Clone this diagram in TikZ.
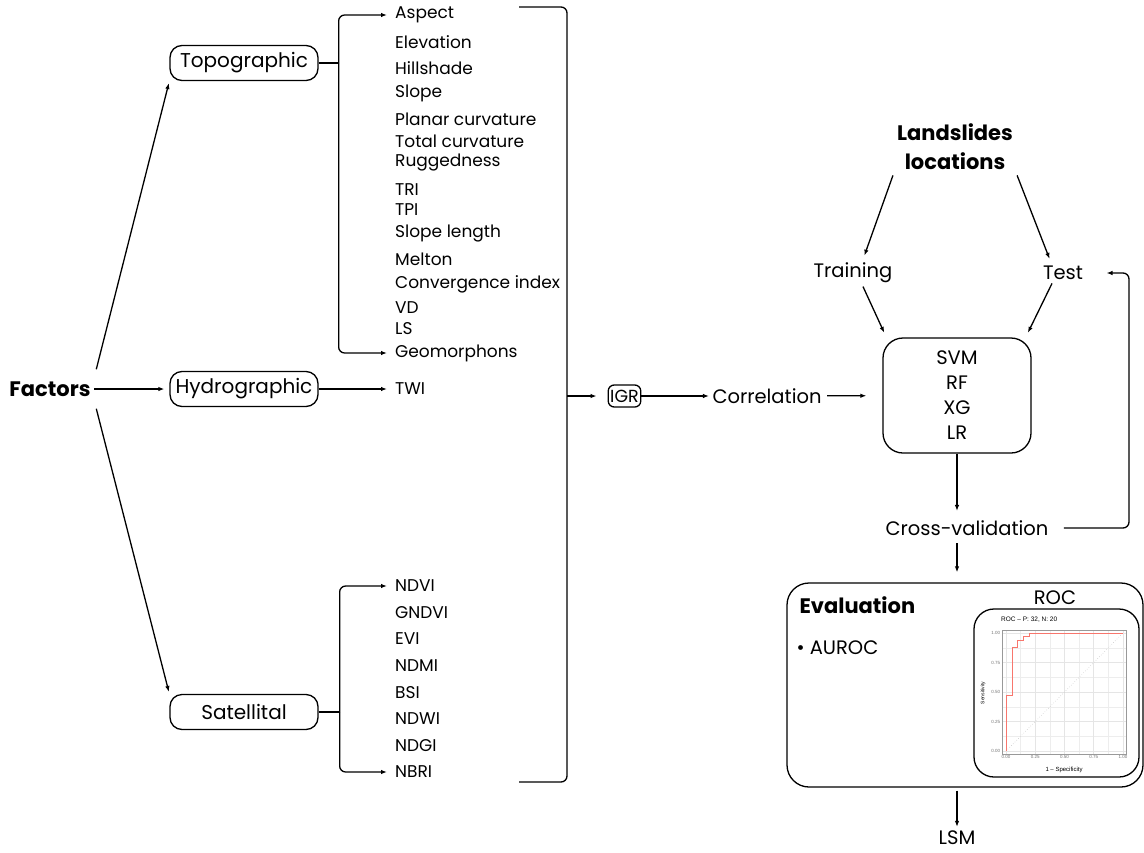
\documentclass[tikz,border=0pt]{standalone}
\usepackage{fontspec}
\setmainfont{Poppins}
\newfontfamily\plotfont{Liberation Sans}
\usepackage{tikz}
\usetikzlibrary{arrows.meta,positioning}

\definecolor{rocred}{HTML}{F8766D}
\tikzset{
	arr/.style={-{Latex[length=6pt,width=4.5pt]}, line width=1.3pt},
	ln/.style={line width=1.3pt},
	cat/.style={draw, line width=1.3pt, rounded corners=12pt, minimum width=148pt, minimum height=35pt, inner sep=0pt, font=\fontsize{20}{24}\selectfont},
	item/.style={anchor=west, inner xsep=8pt, inner ysep=1pt, font=\fontsize{17}{20}\selectfont},
	lbl/.style={font=\fontsize{19.5}{25}\selectfont},
	hd/.style={font=\fontsize{21}{25}\selectfont\bfseries},
	tick/.style={font=\plotfont\fontsize{4.5}{5}\selectfont, text=black!55, inner sep=1pt},
}

\begin{document}
\begin{tikzpicture}[x=1pt, y=-1pt]
	\useasboundingbox (0,0) rectangle (1144,852);

	\node[hd] (factors) at (50,389) {Factors};
	\node[cat] (topo) at (244,63) {Topographic};
	\node[cat] (hydro) at (244,389) {Hydrographic};
	\node[cat] (sat) at (244,712) {Satellital};

	\draw[arr, shorten <=9pt, shorten >=2pt] (factors.north east) -- (topo.south west);
	\draw[arr, shorten >=5pt] (factors) -- (hydro);
	\draw[arr, shorten <=9pt, shorten >=2pt] (factors.south east) -- (sat.north west);

	\foreach \y/\txt [count=\i] in {15/Aspect, 42/Elevation, 68/Hillshade, 93/Slope, 119/Planar curvature, 141/Total curvature, 163/Ruggedness, 190/TRI, 210/TPI, 233/Slope length, 259/Melton, 284/Convergence index, 308/VD, 329/LS, 353/Geomorphons}
		\node[item] (t\i) at (387,\y) {\txt};
	\node[item] (twi) at (387,389) {TWI};
	\foreach \y/\txt [count=\i] in {586/NDVI, 613/GNDVI, 639/EVI, 666/NDMI, 693/BSI, 719/NDWI, 746/NDGI, 772/NBRI}
		\node[item] (s\i) at (387,\y) {\txt};

	\draw[ln] (topo.east) -- ++(20,0) coordinate (tj);
	\draw[arr, rounded corners=6pt] (tj) |- (t1.west);
	\draw[arr, rounded corners=6pt] (tj) |- (t15.west);
	\draw[arr] (hydro) -- (twi);
	\draw[ln] (sat.east) -- ++(21,0) coordinate (sj);
	\draw[arr, rounded corners=6pt] (sj) |- (s1.west);
	\draw[arr, rounded corners=6pt] (sj) |- (s8.west);

	\coordinate (bt1) at (519,7);
	\coordinate (bt2) at (519,782);
	\coordinate (bx) at (567,396);
	\draw[ln, rounded corners=6pt] (bt1) -| (bx) |- (bt2);

	\node[draw, ln, rounded corners=6pt, inner sep=2pt, minimum height=22pt, font=\fontsize{17.5}{20}\selectfont] (igr) at (624.5,396) {IGR};
	\node[lbl] (corr) at (767,396) {Correlation};
	\node[lbl, draw, ln, rounded corners=20pt, align=center, minimum width=148pt, minimum height=115pt] (model) at (957,395.5) {SVM\\RF\\XG\\LR};
	\draw[arr, shorten >=11pt] (bx) -- (igr);
	\draw[arr] (igr) -- (corr);
	\draw[arr, shorten <=2pt, shorten >=16pt] (corr) -- (model);

	\node[hd, align=center, font=\fontsize{21}{29}\selectfont\bfseries] (land) at (955,147) {Landslides\\locations};
	\node[lbl] (train) at (853,273) {Training};
	\node[lbl] (test) at (1063,273) {Test};
	\draw[arr, shorten <=2pt, shorten >=4pt] (land.south west) -- ([xshift=10pt]train.north);
	\draw[arr, shorten <=2pt, shorten >=4pt] (land.south east) -- ([xshift=-12pt]test.north);
	\draw[arr, shorten >=5pt] ([xshift=10pt]train.south) -- ([xshift=4pt]model.north west);
	\draw[arr, shorten >=5pt] ([xshift=-11pt]test.south) -- ([xshift=-6pt]model.north east);

	\node[lbl] (cv) at (967,528) {Cross-validation};
	\node[draw, ln, rounded corners=22pt, minimum width=356pt, minimum height=204pt] (eval) at (965,685) {};
	\node[lbl, inner sep=2pt] (lsm) at (957,838) {LSM};
	\draw[arr, shorten >=6pt] (model.south) -- (model.south |- cv.north);
	\draw[arr, shorten <=4pt, shorten >=10pt] (model.south |- cv.south) -- (model.south |- eval.north);
	\draw[arr, shorten <=3pt, shorten >=2pt] (model.south |- eval.south) -- (lsm);
	\coordinate (fb) at (1129,400);
	\draw[arr, rounded corners=6pt] ([xshift=12pt]cv.east) -| (fb) |- ([xshift=20pt]test.east);

	\node[hd, anchor=west] (evtitle) at (796,605) {Evaluation};
	\node[lbl, anchor=west] (auroc) at (793,648) {\textbullet\ AUROC};
	\node[lbl] (roctitle) at (1055,598) {ROC};
	\node[draw, ln, rounded corners=20pt, minimum width=165pt, minimum height=168pt] (roc) at (1056.5,693) {};

	\node[anchor=west, inner sep=0pt, font=\plotfont\fontsize{6.5}{8}\selectfont] (plottitle) at (1001,620) {ROC – P: 32, N: 20};
	\node[rotate=90, inner sep=0pt, font=\plotfont\fontsize{5}{6}\selectfont] (ylab) at (983,693) {Sensitivity};
	\node[inner sep=0pt, font=\plotfont\fontsize{6}{7}\selectfont] (xlab) at (1064,770) {1 – Specificity};
	\begin{scope}[shift={(1006,751)}, x=117pt, y=118pt]
		\foreach \v in {0.125,0.375,0.625,0.875}
			\draw[black!7, line width=0.4pt] (\v,-0.025) -- (\v,1.025) (-0.035,\v) -- (1.026,\v);
		\foreach \v/\lab in {0/0.00,0.25/0.25,0.5/0.50,0.75/0.75,1/1.00} {
			\draw[black!10, line width=0.8pt] (\v,-0.025) -- (\v,1.025) (-0.035,\v) -- (1.026,\v);
			\node[tick, anchor=east] at (-0.04,\v) {\lab};
			\node[tick, anchor=north] at (\v,-0.03) {\lab};
		}
		\draw[black!40, line width=0.4pt] (-0.035,-0.025) rectangle (1.026,1.025);
		\draw[black!25, dotted, line width=0.5pt] (0,0) -- (1,1);
		\draw[draw=rocred, line width=0.7pt] (0,0) -- (0,0.47) -- (0.05,0.47) -- (0.05,0.875) -- (0.1,0.875) -- (0.1,0.9375) -- (0.15,0.9375) -- (0.15,0.969) -- (0.2,0.969) -- (0.2,1) -- (1,1);
	\end{scope}
\end{tikzpicture}
\end{document}
